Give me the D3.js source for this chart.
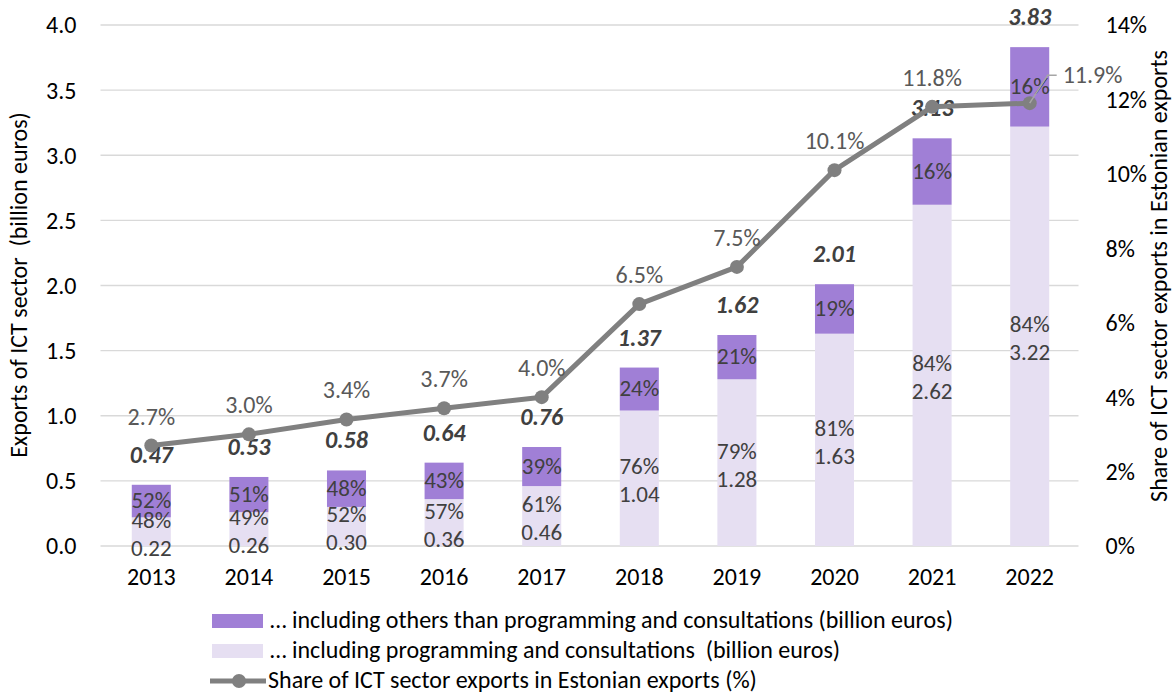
<!DOCTYPE html>
<html>
<head>
<meta charset="utf-8">
<script src="https://cdn.jsdelivr.net/npm/d3@7"></script>
<style>
  body { margin: 0; background: #fff; }
  svg { display: block; font-family: Carlito, Lato, "Open Sans", sans-serif; }
  svg text { font-family: Carlito, Lato, "Open Sans", sans-serif; }
</style>
</head>
<body>
<svg id="chart" width="1175" height="693"></svg>
<script>
// ICT sector exports, Estonia
const years = ["2013","2014","2015","2016","2017","2018","2019","2020","2021","2022"];
const totalExports = [0.47, 0.53, 0.58, 0.64, 0.76, 1.37, 1.62, 2.01, 3.13, 3.83];
const programming = [0.22, 0.26, 0.30, 0.36, 0.46, 1.04, 1.28, 1.63, 2.62, 3.22];
const programmingPct = [48, 49, 52, 57, 61, 76, 79, 81, 84, 84];
const othersPct = [52, 51, 48, 43, 39, 24, 21, 19, 16, 16];
const sharePct = [2.7, 3.0, 3.4, 3.7, 4.0, 6.5, 7.5, 10.1, 11.8, 11.9];
const leftTicks = [0, 0.5, 1.0, 1.5, 2.0, 2.5, 3.0, 3.5, 4.0];
const rightTicks = [0, 2, 4, 6, 8, 10, 12, 14];

const colDark = "#a07fd6", colLight = "#e6dff2", colLine = "#808080";
const txt = "#404040";
const FS = 24;
const FS_SEG = 23;

const svg = d3.select("#chart");
const m = { left: 102.5, right: 1078.5, top: 25, bottom: 546 };

const x = d3.scaleBand().domain(years).range([m.left, m.right]).paddingInner(0.6).paddingOuter(0.3);
const y = d3.scaleLinear().domain([0, 4]).range([m.bottom, m.top]);
const y2 = d3.scaleLinear().domain([0, 14]).range([m.bottom, m.top]);

// gridlines
svg.append("g").selectAll("line").data(leftTicks).join("line")
  .attr("x1", m.left - 2).attr("x2", m.right)
  .attr("y1", d => y(d)).attr("y2", d => y(d))
  .attr("stroke", "#d9d9d9").attr("stroke-width", 1.3);

// left axis
const ax = svg.append("g").attr("transform", `translate(${m.left - 23},0)`)
  .call(d3.axisLeft(y).tickValues(leftTicks).tickFormat(d3.format(".1f")).tickSize(0));
ax.attr("font-family", null).attr("font-size", FS);
ax.select(".domain").remove();
ax.selectAll("text").attr("fill", "#000").attr("dy", "0.33em");

// right axis
const ax2 = svg.append("g").attr("transform", `translate(${m.right + 24},0)`)
  .call(d3.axisRight(y2).tickValues(rightTicks).tickFormat(d => d + "%").tickSize(0));
ax2.attr("font-family", null).attr("font-size", FS);
ax2.select(".domain").remove();
ax2.selectAll("text").attr("fill", "#000").attr("dy", "0.33em");

// x axis labels
svg.append("g").selectAll("text").data(years).join("text")
  .attr("x", d => x(d) + x.bandwidth() / 2).attr("y", 585)
  .attr("text-anchor", "middle").attr("font-size", FS).attr("fill", "#000")
  .text(d => d);

// axis titles
svg.append("text").attr("transform", "translate(27,285) rotate(-90)")
  .attr("text-anchor", "middle").attr("font-size", FS).attr("fill", "#000")
  .attr("xml:space", "preserve")
  .text("Exports of ICT sector  (billion euros)");
svg.append("text").attr("transform", "translate(1167,276) rotate(-90)")
  .attr("text-anchor", "middle").attr("font-size", FS).attr("fill", "#000")
  .text("Share of ICT sector exports in Estonian exports");

const data = years.map((yr, i) => ({
  yr, total: totalExports[i], prog: programming[i],
  progPct: programmingPct[i], othPct: othersPct[i], share: sharePct[i]
}));

const bars = svg.append("g");
// programming segment
bars.selectAll("rect.prog").data(data).join("rect").attr("class", "prog")
  .attr("x", d => x(d.yr)).attr("width", x.bandwidth())
  .attr("y", d => y(d.prog)).attr("height", d => y(0) - y(d.prog))
  .attr("fill", colLight);
// others segment
bars.selectAll("rect.oth").data(data).join("rect").attr("class", "oth")
  .attr("x", d => x(d.yr)).attr("width", x.bandwidth())
  .attr("y", d => y(d.total)).attr("height", d => y(d.prog) - y(d.total))
  .attr("fill", colDark);

const cx = d => x(d.yr) + x.bandwidth() / 2;

// segment labels
const lab = svg.append("g").attr("font-size", FS_SEG).attr("fill", txt).attr("text-anchor", "middle");
lab.selectAll("text.oth").data(data).join("text").attr("class", "oth")
  .attr("x", cx).attr("y", d => (y(d.prog) + y(d.total)) / 2 + 7)
  .text(d => d.othPct + "%");
lab.selectAll("text.pp").data(data).join("text").attr("class", "pp")
  .attr("x", cx).attr("y", d => y(d.prog / 2) - 4)
  .text(d => d.progPct + "%");
lab.selectAll("text.pv").data(data).join("text").attr("class", "pv")
  .attr("x", cx).attr("y", d => y(d.prog / 2) + 24)
  .text(d => d.prog.toFixed(2));

// totals above bars
lab.selectAll("text.tot").data(data).join("text").attr("class", "tot")
  .attr("x", cx).attr("y", d => y(d.total) - 22)
  .attr("font-size", FS)
  .attr("font-weight", "bold").attr("font-style", "italic")
  .text(d => d.total.toFixed(2));

// share line
const line = d3.line().x(cx).y(d => y2(d.share));
svg.append("path").datum(data).attr("d", line)
  .attr("fill", "none").attr("stroke", colLine).attr("stroke-width", 5).attr("stroke-linejoin", "round");
svg.append("g").selectAll("circle").data(data).join("circle")
  .attr("cx", cx).attr("cy", d => y2(d.share)).attr("r", 7).attr("fill", colLine);

// share labels
const last = data[data.length - 1];
const shareLab = svg.append("g").attr("font-size", FS).attr("fill", "#595959").attr("text-anchor", "middle");
shareLab.selectAll("text").data(data.slice(0, -1)).join("text")
  .attr("x", cx).attr("y", d => y2(d.share) - 21)
  .text(d => d.share.toFixed(1) + "%");
// last label placed to the right with a leader line
const lx = cx(last) + 27, ly = y2(last.share) - 28;
svg.append("polyline")
  .attr("points", `${cx(last)},${y2(last.share)} ${lx - 9},${ly} ${lx},${ly}`)
  .attr("fill", "none").attr("stroke", "#a6a6a6").attr("stroke-width", 1.5);
shareLab.append("text").attr("x", lx + 6).attr("y", ly + 8).attr("text-anchor", "start")
  .text(last.share.toFixed(1) + "%");

// legend
const leg = svg.append("g").attr("font-size", FS).attr("fill", "#000");
leg.append("rect").attr("x", 212).attr("y", 614).attr("width", 51).attr("height", 14).attr("fill", colDark);
leg.append("text").attr("x", 270).attr("y", 628).text("… including others than programming and consultations (billion euros)");
leg.append("rect").attr("x", 212).attr("y", 644).attr("width", 51).attr("height", 14).attr("fill", colLight);
leg.append("text").attr("x", 270).attr("y", 658).attr("xml:space", "preserve").text("… including programming and consultations  (billion euros)");
leg.append("line").attr("x1", 210).attr("x2", 266).attr("y1", 681).attr("y2", 681).attr("stroke", colLine).attr("stroke-width", 5);
leg.append("circle").attr("cx", 239).attr("cy", 681).attr("r", 7).attr("fill", colLine);
leg.append("text").attr("x", 268).attr("y", 688).text("Share of ICT sector exports in Estonian exports (%)");
</script>
</body>
</html>
